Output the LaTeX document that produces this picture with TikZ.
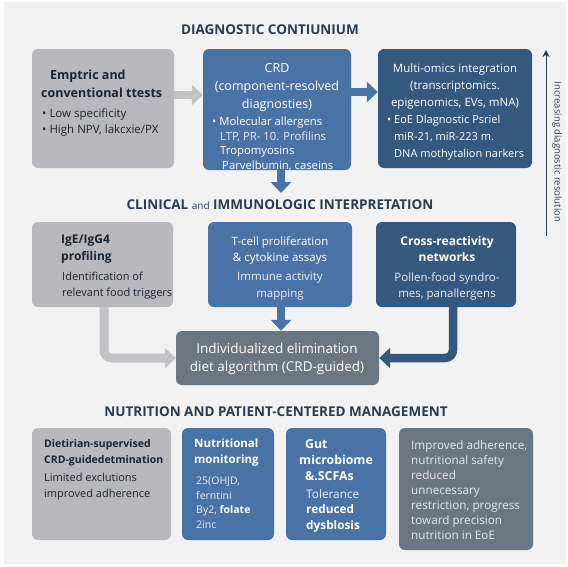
\documentclass[tikz,border=0pt]{standalone}
\usepackage{fontspec}
\setmainfont{Open Sans}
\usetikzlibrary{arrows.meta}
\definecolor{pagebg}{HTML}{F2F2F2}
\definecolor{cgray}{HTML}{B8B8BD}
\definecolor{cblue}{HTML}{4A73A5}
\definecolor{cdark}{HTML}{35587E}
\definecolor{cslate}{HTML}{6B7683}
\definecolor{carrgray}{HTML}{C3C3C7}
\definecolor{ctitle}{HTML}{2C3C4E}
\definecolor{cdtext}{HTML}{1C2430}
\definecolor{clight}{HTML}{E6E8EC}
\tikzset{
  bx/.style={rounded corners=6pt, inner sep=0pt, draw=none},
  graybox/.style={bx, fill=cgray},
  bluebox/.style={bx, fill=cblue},
  darkbox/.style={bx, fill=cdark},
  slatebox/.style={bx, fill=cslate},
  ttl/.style={inner sep=0pt, text=ctitle, font=\fontsize{13.5}{16}\selectfont\bfseries},
  txt/.style={inner sep=0pt, align=left, font=\fontsize{11}{15.5}\selectfont},
  txtc/.style={inner sep=0pt, align=center, font=\fontsize{11.5}{16.5}\selectfont},
  fat/.style={line width=8.5pt, -{Triangle[width=20pt,length=11pt]}},
}
\begin{document}
\begin{tikzpicture}[x=1pt,y=-1pt]
\useasboundingbox (0,0) rectangle (568,566);
\fill[white] (0,0) rectangle (568,566);
\fill[pagebg] (4,2) rectangle (566,564);

% titles
\node[ttl] (t1) at (270,30) {DIAGNOSTIC CONTIUNIUM};
\node[ttl] (t2) at (280,205) {CLINICAL {\fontsize{10}{12}\selectfont\mdseries and} IMMUNOLOGIC INTERPRETATION};
\node[ttl] (t3) at (276,412) {NUTRITION AND PATIENT-CENTERED MANAGEMENT};

% row 1 boxes
\node[graybox, minimum width=142pt, minimum height=119pt] (b1) at (103,108.5) {};
\node[bluebox, minimum width=148pt, minimum height=121pt] (b2) at (277,109.5) {};
\node[darkbox, minimum width=154pt, minimum height=119pt] (b3) at (455,108.5) {};

% row 1 arrows
\draw[fat, carrgray] (b1.east |- 0,95) -- (b2.west |- 0,95);
\draw[fat, cblue] (b2.east |- 0,92) -- (b3.west |- 0,92);
\coordinate (d2) at (281,193);
\draw[fat, cblue] (b2.south -| d2) -- (d2);

% row 1 texts
\node[txt, text=cdtext, anchor=north west, font=\fontsize{12.5}{17.5}\selectfont\bfseries] (b1h) at (41,70) {\hspace*{9pt}Emptric and\\conventional ttests};
\node[txt, text=cdtext, anchor=north west, font=\fontsize{11.5}{16}\selectfont] (b1t) at (42,108) {• Low specificity\\• High NPV, lakcxie/PX};

\node[txtc, text=white, anchor=north, font=\fontsize{12.5}{18}\selectfont] (b2h) at (277,63) {CRD\\(component-resolved\\diagnosties)};
\node[txt, text=white, anchor=north west, font=\fontsize{11.3}{14.6}\selectfont] (b2t) at (212,117) {• Molecular allergens\\
\hspace*{8pt}{\color{white!85!cblue}LTP, PR- 10. Profilins}\\
\hspace*{8pt}Tropomyosins\\
\hspace*{10pt}Parvelbumin, caseins};

\node[txtc, text=white, anchor=north, font=\fontsize{11.5}{16.8}\selectfont] (b3h) at (455,64) {Multi-omics integration\\(transcriptomics.\\epigenomics, EVs, mNA)};
\node[txt, text=white, anchor=north west, font=\fontsize{11}{17}\selectfont] (b3t) at (387,115) {• EoE Dlagnostic Psriel\\\hspace*{7pt}miR-21, miR-223 m.\\\hspace*{7pt}DNA mothytalion narkers};

% side arrow
\coordinate (vs) at (546,236);
\coordinate (ve) at (546,50);
\draw[line width=1pt, ctitle, -{Stealth[width=7pt,length=7pt]}] (vs) -- (ve);
\node[inner sep=0pt, rotate=-90, text=ctitle, font=\fontsize{9.5}{11}\selectfont] (vl) at (557,152) {Increasing diagnostic resolution};

% row 2 boxes
\node[graybox, minimum width=141pt, minimum height=85pt] (a) at (102.5,264.5) {};
\node[bluebox, minimum width=144pt, minimum height=85pt] (b) at (280,264.5) {};
\node[darkbox, minimum width=140pt, minimum height=85pt] (c) at (446,264.5) {};
\node[slatebox, minimum width=203pt, minimum height=54pt] (d) at (277.5,358) {};

% row 2 arrows
\draw[line width=9pt, carrgray, rounded corners=8pt, -{Triangle[width=20pt,length=11pt]}] (a.south -| 104,0) -- (104,358) -- (d.west |- 0,358);
\draw[fat, cblue] (b.south -| 281,0) -- (d.north -| 281,0);
\draw[line width=8.5pt, cdark, rounded corners=8pt, -{Triangle[width=20pt,length=11pt]}] (c.south -| 453,0) -- (453,358) -- (d.east |- 0,358);

% row 2 texts
\node[txt, text=cdtext, anchor=north west, font=\fontsize{12}{17}\selectfont\bfseries] (ah) at (61,235) {IgE/IgG4\\profiling};
\node[txt, text=cdtext, anchor=north west] (at) at (62,272) {Identification of\\relevant food triggers};

\node[txtc, text=white, anchor=north] (bh) at (280,236) {T-cell proliferation\\\& cytokine assays};
\node[txtc, text=white!88!cblue, anchor=north] (bt) at (280,272) {Immune activity\\mapping};

\node[txtc, text=white, anchor=north, font=\fontsize{12}{16.5}\selectfont\bfseries] (ch) at (447,236) {Cross-reactivity\\networks};
\node[txtc, text=white!90!cdark, anchor=north] (ct) at (447,272) {Pollen-food syndro-\\mes, panallergens};

\node[txtc, text=white, anchor=center, font=\fontsize{13.5}{18}\selectfont] (dt) at (277,359) {Individualized elimination\\diet algorithm (CRD-guided)};

% row 3 boxes
\node[graybox, minimum width=139pt, minimum height=112pt] (e) at (101.5,484) {};
\node[bluebox, minimum width=92pt, minimum height=112pt] (f) at (228,484) {};
\node[bluebox, minimum width=100pt, minimum height=112pt] (g) at (336,484) {};
\node[slatebox, minimum width=134pt, minimum height=122pt] (h) at (466,489) {};

% row 3 texts
\node[txt, text=cdtext, anchor=north west, font=\fontsize{10.5}{16}\selectfont\bfseries] (eh) at (44,439) {Dietirian-supervised\\CRD-guidedetmination};
\node[txt, text=cdtext, anchor=north west, font=\fontsize{11}{16}\selectfont] (et) at (44,473) {Limited exclutions\\improved adherence};

\node[txt, text=white, anchor=north west, font=\fontsize{11.5}{16}\selectfont\bfseries] (fh) at (194,439) {Nutritional\\monitoring};
\node[txt, text=white!88!cblue, anchor=north west, font=\fontsize{10.5}{14.5}\selectfont] (ft) at (196,477) {25(OHJD,\\ferntini\\By2, {\bfseries\color{white}folate}\\2inc};

\node[txt, text=white, anchor=north west, font=\fontsize{12.3}{16}\selectfont\bfseries] (gh) at (299,439) {\hspace*{6pt}Gut\\microbiome\\\hspace*{6pt}\&.SCFAs};
\node[txt, text=white, anchor=north west, font=\fontsize{11.8}{15.5}\selectfont] (gt) at (306,489) {{\color{white!88!cblue}Tolerance}\\{\bfseries reduced}\\{\bfseries dysblosis}};

\node[txt, text=clight, anchor=north west, font=\fontsize{11.7}{15}\selectfont] (ht) at (411,440) {Improved adherence,\\nutritional safety\\reduced\\unnecessary\\restriction, progress\\toward precision\\nutrition in EoE};
\end{tikzpicture}
\end{document}
